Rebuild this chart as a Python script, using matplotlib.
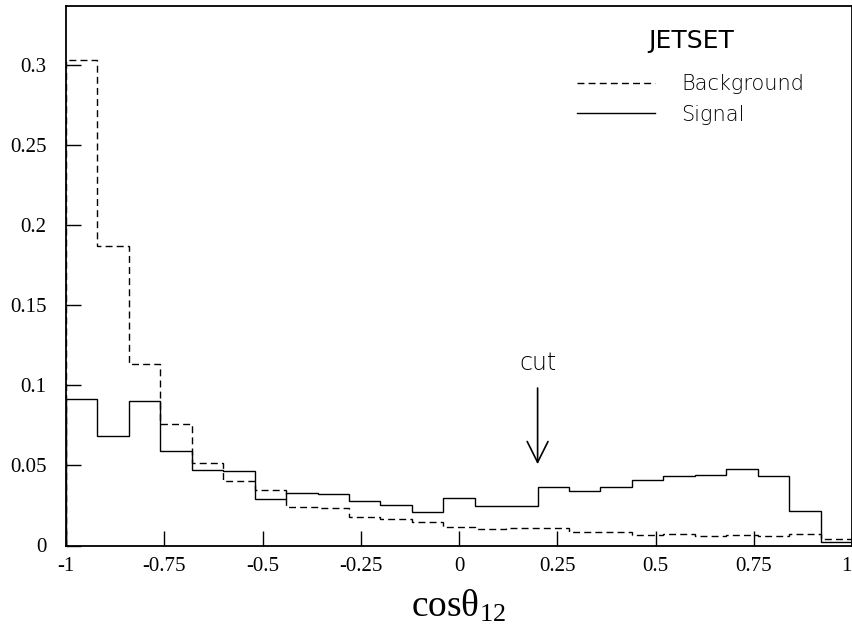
import matplotlib.pyplot as plt
import numpy as np

# 25 bins of width 0.08 on [-1, 1]
bin_edges = np.linspace(-1, 1, 26)

signal = [0.0917, 0.0685, 0.0902, 0.0590, 0.0473, 0.0465, 0.0290, 0.0327, 0.0319,
          0.0277, 0.0254, 0.0210, 0.0296, 0.0248, 0.0248, 0.0365, 0.0338, 0.0365,
          0.0410, 0.0433, 0.0440, 0.0479, 0.0431, 0.0215, 0.0024]
background = [0.303, 0.187, 0.113, 0.0756, 0.0513, 0.0404, 0.0346, 0.0242, 0.0233,
              0.0179, 0.0163, 0.0148, 0.0117, 0.0101, 0.0107, 0.0107, 0.0082, 0.0082,
              0.0065, 0.0070, 0.0060, 0.0065, 0.0060, 0.0073, 0.0040]

x_ticks = [-1, -0.75, -0.5, -0.25, 0, 0.25, 0.5, 0.75, 1]
x_ticklabels = ['-1', '-0.75', '-0.5', '-0.25', '0', '0.25', '0.5', '0.75', '1']
y_ticks = [0, 0.05, 0.1, 0.15, 0.2, 0.25, 0.3]
y_ticklabels = ['0', '0.05', '0.1', '0.15', '0.2', '0.25', '0.3']
cut_value = 0.2

serif = 'Liberation Serif'
thin = 'DejaVu Sans'

fig = plt.figure(figsize=(8.53, 6.35), dpi=100)
ax = fig.add_axes([66 / 853, 1 - 545.5 / 635, 786 / 853, 540 / 635])

ax.stairs(background, bin_edges, color='black', linewidth=1.0,
          linestyle=(0, (5, 3)), label='Background')
ax.stairs(signal, bin_edges, color='black', linewidth=1.0, label='Signal')

ax.set_xlim(-1, 1)
ax.set_ylim(0, 0.337)

ax.set_xticks(x_ticks)
ax.set_xticklabels(x_ticklabels, fontfamily=serif, fontsize=15)
ax.get_xticklabels()[-1].set_horizontalalignment('right')
ax.set_yticks(y_ticks)
ax.set_yticklabels(y_ticklabels, fontfamily=serif, fontsize=15)
ax.tick_params(axis='x', direction='in', length=11, width=1, pad=8)
ax.tick_params(axis='y', direction='in', length=11, width=1, pad=14)
for s in ax.spines.values():
    s.set_linewidth(1.3)

ax.set_xlabel(r'$\mathregular{cosθ_{12}}$', fontfamily=serif, fontsize=27, labelpad=9)

# cut arrow
ax.annotate('', xy=(cut_value, 0.049), xytext=(cut_value, 0.100),
            arrowprops=dict(arrowstyle='->,head_length=1.5,head_width=0.75',
                            color='black', linewidth=1.2))
ax.text(cut_value, 0.114, 'cut', ha='center', va='center',
        fontfamily=thin, fontweight='light', fontsize=17)

leg = ax.legend(title='JETSET', frameon=False, loc='upper left',
                bbox_to_anchor=(0.632, 0.983), handlelength=3.75,
                handletextpad=1.25, labelspacing=0.5, borderpad=0.2,
                prop={'family': thin, 'weight': 'light', 'size': 15})
leg.get_title().set_fontfamily(thin)
leg.get_title().set_fontsize(18)
leg._legend_box.sep = 15

fig.savefig('out.png', dpi=100)
